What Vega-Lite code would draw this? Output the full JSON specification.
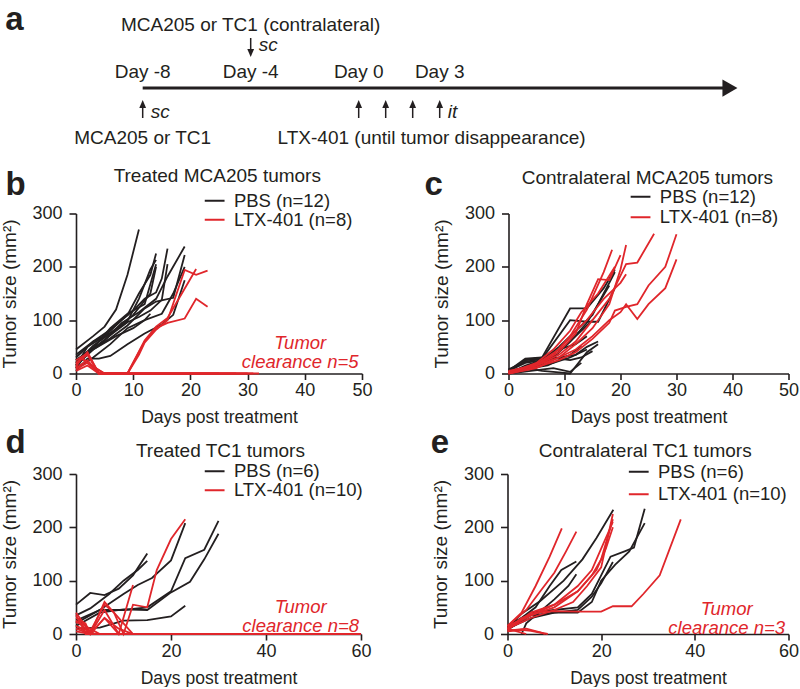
{
"$schema": "https://vega.github.io/schema/vega-lite/v6.json",
"background": "white",
"padding": {"left": 0, "top": 0, "right": 0, "bottom": 0},
"config": {
  "font": "Liberation Sans",
  "view": {"stroke": null},
  "axis": {"grid": false, "domainColor": "#231f20", "domainWidth": 1.6, "tickColor": "#231f20", "tickWidth": 1.6, "labelFont": "Liberation Sans", "labelFontSize": 18, "labelColor": "#231f20", "titleFont": "Liberation Sans", "titleFontWeight": "normal", "titleColor": "#231f20", "zindex": 0},
  "axisX": {"tickSize": 6, "labelPadding": 2, "titlePadding": 9, "titleFontSize": 17.5, "labelFlush": false},
  "axisY": {"tickSize": 7, "labelPadding": 7, "titlePadding": 12.5, "titleFontSize": 19},
  "legend": {"symbolType": "M-1.4,0H1.4", "symbolSize": 200, "symbolStrokeWidth": 2, "labelFont": "Liberation Sans", "labelFontSize": 18.5, "labelColor": "#231f20", "labelOffset": 10, "rowPadding": 0, "padding": 0, "titlePadding": 0},
  "text": {"font": "Liberation Sans", "fontSize": 19, "color": "#231f20"}
},
"datasets": {
"b": [
{"id":"P1","g":"PBS","day":0,"size":45},{"id":"P1","g":"PBS","day":3,"size":70},{"id":"P1","g":"PBS","day":5,"size":88},{"id":"P1","g":"PBS","day":7,"size":120},{"id":"P1","g":"PBS","day":9,"size":185},{"id":"P1","g":"PBS","day":11,"size":270},
{"id":"P2","g":"PBS","day":0,"size":30},{"id":"P2","g":"PBS","day":3,"size":60},{"id":"P2","g":"PBS","day":6,"size":82},{"id":"P2","g":"PBS","day":9,"size":110},{"id":"P2","g":"PBS","day":11,"size":150},{"id":"P2","g":"PBS","day":13,"size":185},{"id":"P2","g":"PBS","day":14,"size":225},
{"id":"P3","g":"PBS","day":0,"size":20},{"id":"P3","g":"PBS","day":3,"size":52},{"id":"P3","g":"PBS","day":6,"size":75},{"id":"P3","g":"PBS","day":9,"size":98},{"id":"P3","g":"PBS","day":11,"size":140},{"id":"P3","g":"PBS","day":13,"size":195},{"id":"P3","g":"PBS","day":14,"size":213},
{"id":"P4","g":"PBS","day":0,"size":25},{"id":"P4","g":"PBS","day":3,"size":48},{"id":"P4","g":"PBS","day":6,"size":85},{"id":"P4","g":"PBS","day":9,"size":112},{"id":"P4","g":"PBS","day":12,"size":130},{"id":"P4","g":"PBS","day":14,"size":205},
{"id":"P5","g":"PBS","day":0,"size":15},{"id":"P5","g":"PBS","day":2,"size":50},{"id":"P5","g":"PBS","day":5,"size":70},{"id":"P5","g":"PBS","day":8,"size":100},{"id":"P5","g":"PBS","day":10,"size":118},{"id":"P5","g":"PBS","day":12,"size":140},{"id":"P5","g":"PBS","day":14,"size":152},{"id":"P5","g":"PBS","day":15,"size":178},{"id":"P5","g":"PBS","day":16,"size":234},
{"id":"P6","g":"PBS","day":0,"size":10},{"id":"P6","g":"PBS","day":2,"size":40},{"id":"P6","g":"PBS","day":5,"size":62},{"id":"P6","g":"PBS","day":8,"size":95},{"id":"P6","g":"PBS","day":11,"size":115},{"id":"P6","g":"PBS","day":14,"size":140},{"id":"P6","g":"PBS","day":16,"size":182},{"id":"P6","g":"PBS","day":19,"size":238},
{"id":"P7","g":"PBS","day":0,"size":20},{"id":"P7","g":"PBS","day":3,"size":45},{"id":"P7","g":"PBS","day":6,"size":66},{"id":"P7","g":"PBS","day":9,"size":90},{"id":"P7","g":"PBS","day":12,"size":122},{"id":"P7","g":"PBS","day":14,"size":135},{"id":"P7","g":"PBS","day":17,"size":142},{"id":"P7","g":"PBS","day":19,"size":222},
{"id":"P8","g":"PBS","day":0,"size":10},{"id":"P8","g":"PBS","day":3,"size":30},{"id":"P8","g":"PBS","day":6,"size":55},{"id":"P8","g":"PBS","day":9,"size":85},{"id":"P8","g":"PBS","day":12,"size":100},{"id":"P8","g":"PBS","day":15,"size":112},{"id":"P8","g":"PBS","day":17,"size":150},{"id":"P8","g":"PBS","day":19,"size":200},
{"id":"P9","g":"PBS","day":0,"size":5},{"id":"P9","g":"PBS","day":2,"size":28},{"id":"P9","g":"PBS","day":4,"size":28},{"id":"P9","g":"PBS","day":6,"size":33},{"id":"P9","g":"PBS","day":9,"size":55},{"id":"P9","g":"PBS","day":12,"size":75},{"id":"P9","g":"PBS","day":15,"size":92},{"id":"P9","g":"PBS","day":17,"size":110},{"id":"P9","g":"PBS","day":19,"size":175},
{"id":"P10","g":"PBS","day":0,"size":35},{"id":"P10","g":"PBS","day":3,"size":60},{"id":"P10","g":"PBS","day":6,"size":76},{"id":"P10","g":"PBS","day":8,"size":92},{"id":"P10","g":"PBS","day":10,"size":110},{"id":"P10","g":"PBS","day":13,"size":150},{"id":"P10","g":"PBS","day":14,"size":200},
{"id":"P11","g":"PBS","day":0,"size":25},{"id":"P11","g":"PBS","day":4,"size":55},{"id":"P11","g":"PBS","day":7,"size":80},{"id":"P11","g":"PBS","day":9,"size":96},{"id":"P11","g":"PBS","day":11,"size":106},{"id":"P11","g":"PBS","day":13,"size":118},{"id":"P11","g":"PBS","day":15,"size":138},{"id":"P11","g":"PBS","day":16,"size":205},
{"id":"P12","g":"PBS","day":0,"size":15},{"id":"P12","g":"PBS","day":3,"size":45},{"id":"P12","g":"PBS","day":7,"size":70},{"id":"P12","g":"PBS","day":10,"size":85},{"id":"P12","g":"PBS","day":12,"size":100},{"id":"P12","g":"PBS","day":13,"size":112},
{"id":"L1","g":"LTX-401","day":0,"size":15},{"id":"L1","g":"LTX-401","day":2,"size":40},{"id":"L1","g":"LTX-401","day":4,"size":0},{"id":"L1","g":"LTX-401","day":9,"size":0},{"id":"L1","g":"LTX-401","day":12,"size":60},{"id":"L1","g":"LTX-401","day":14,"size":85},{"id":"L1","g":"LTX-401","day":16,"size":95},{"id":"L1","g":"LTX-401","day":19,"size":103},{"id":"L1","g":"LTX-401","day":21,"size":140},{"id":"L1","g":"LTX-401","day":23,"size":125},
{"id":"L2","g":"LTX-401","day":0,"size":10},{"id":"L2","g":"LTX-401","day":2,"size":25},{"id":"L2","g":"LTX-401","day":4,"size":0},{"id":"L2","g":"LTX-401","day":9,"size":0},{"id":"L2","g":"LTX-401","day":11,"size":35},{"id":"L2","g":"LTX-401","day":12,"size":58},{"id":"L2","g":"LTX-401","day":14,"size":82},{"id":"L2","g":"LTX-401","day":16,"size":100},{"id":"L2","g":"LTX-401","day":19,"size":194},{"id":"L2","g":"LTX-401","day":21,"size":185},{"id":"L2","g":"LTX-401","day":23,"size":193},
{"id":"L3","g":"LTX-401","day":0,"size":20},{"id":"L3","g":"LTX-401","day":2,"size":35},{"id":"L3","g":"LTX-401","day":4,"size":0},{"id":"L3","g":"LTX-401","day":9,"size":0},{"id":"L3","g":"LTX-401","day":12,"size":62},{"id":"L3","g":"LTX-401","day":14,"size":88},{"id":"L3","g":"LTX-401","day":16,"size":104},{"id":"L3","g":"LTX-401","day":21,"size":196},
{"id":"L4","g":"LTX-401","day":0,"size":12},{"id":"L4","g":"LTX-401","day":1,"size":30},{"id":"L4","g":"LTX-401","day":3,"size":10},{"id":"L4","g":"LTX-401","day":4,"size":0},{"id":"L4","g":"LTX-401","day":31,"size":0},
{"id":"L5","g":"LTX-401","day":0,"size":8},{"id":"L5","g":"LTX-401","day":2,"size":20},{"id":"L5","g":"LTX-401","day":5,"size":0},{"id":"L5","g":"LTX-401","day":28,"size":0},
{"id":"L6","g":"LTX-401","day":0,"size":25},{"id":"L6","g":"LTX-401","day":2,"size":38},{"id":"L6","g":"LTX-401","day":4,"size":0},{"id":"L6","g":"LTX-401","day":30,"size":0},
{"id":"L7","g":"LTX-401","day":0,"size":5},{"id":"L7","g":"LTX-401","day":2,"size":15},{"id":"L7","g":"LTX-401","day":4,"size":0},{"id":"L7","g":"LTX-401","day":25,"size":0},
{"id":"L8","g":"LTX-401","day":0,"size":18},{"id":"L8","g":"LTX-401","day":1,"size":28},{"id":"L8","g":"LTX-401","day":3,"size":12},{"id":"L8","g":"LTX-401","day":5,"size":0},{"id":"L8","g":"LTX-401","day":32,"size":0}
],
"c": [
{"id":"C1","g":"PBS","day":0,"size":5},{"id":"C1","g":"PBS","day":3,"size":28},{"id":"C1","g":"PBS","day":6,"size":30},{"id":"C1","g":"PBS","day":11,"size":122},{"id":"C1","g":"PBS","day":14,"size":122},{"id":"C1","g":"PBS","day":17,"size":160},{"id":"C1","g":"PBS","day":19,"size":195},
{"id":"C2","g":"PBS","day":0,"size":3},{"id":"C2","g":"PBS","day":3,"size":25},{"id":"C2","g":"PBS","day":6,"size":28},{"id":"C2","g":"PBS","day":11,"size":100},{"id":"C2","g":"PBS","day":14,"size":97},{"id":"C2","g":"PBS","day":16,"size":97},{"id":"C2","g":"PBS","day":19,"size":160},
{"id":"C3","g":"PBS","day":0,"size":0},{"id":"C3","g":"PBS","day":3,"size":15},{"id":"C3","g":"PBS","day":6,"size":25},{"id":"C3","g":"PBS","day":9,"size":50},{"id":"C3","g":"PBS","day":12,"size":80},{"id":"C3","g":"PBS","day":15,"size":110},{"id":"C3","g":"PBS","day":17,"size":150},{"id":"C3","g":"PBS","day":19,"size":190},
{"id":"C4","g":"PBS","day":0,"size":5},{"id":"C4","g":"PBS","day":3,"size":10},{"id":"C4","g":"PBS","day":6,"size":5},{"id":"C4","g":"PBS","day":9,"size":2},{"id":"C4","g":"PBS","day":11,"size":0},{"id":"C4","g":"PBS","day":14,"size":40},{"id":"C4","g":"PBS","day":16,"size":55},
{"id":"C5","g":"PBS","day":0,"size":5},{"id":"C5","g":"PBS","day":3,"size":20},{"id":"C5","g":"PBS","day":6,"size":25},{"id":"C5","g":"PBS","day":9,"size":30},{"id":"C5","g":"PBS","day":12,"size":35},{"id":"C5","g":"PBS","day":14,"size":50},{"id":"C5","g":"PBS","day":16,"size":60},
{"id":"C6","g":"PBS","day":0,"size":8},{"id":"C6","g":"PBS","day":3,"size":22},{"id":"C6","g":"PBS","day":6,"size":28},{"id":"C6","g":"PBS","day":9,"size":45},{"id":"C6","g":"PBS","day":12,"size":55},{"id":"C6","g":"PBS","day":14,"size":70},
{"id":"C7","g":"PBS","day":0,"size":0},{"id":"C7","g":"PBS","day":4,"size":10},{"id":"C7","g":"PBS","day":8,"size":20},{"id":"C7","g":"PBS","day":11,"size":30},{"id":"C7","g":"PBS","day":14,"size":45},
{"id":"C8","g":"PBS","day":0,"size":3},{"id":"C8","g":"PBS","day":3,"size":12},{"id":"C8","g":"PBS","day":6,"size":20},{"id":"C8","g":"PBS","day":9,"size":40},{"id":"C8","g":"PBS","day":12,"size":70},{"id":"C8","g":"PBS","day":15,"size":100},
{"id":"C9","g":"PBS","day":0,"size":0},{"id":"C9","g":"PBS","day":5,"size":12},{"id":"C9","g":"PBS","day":8,"size":30},{"id":"C9","g":"PBS","day":11,"size":60},{"id":"C9","g":"PBS","day":14,"size":95},{"id":"C9","g":"PBS","day":16,"size":130},{"id":"C9","g":"PBS","day":18,"size":165},
{"id":"C10","g":"PBS","day":0,"size":5},{"id":"C10","g":"PBS","day":3,"size":25},{"id":"C10","g":"PBS","day":6,"size":30},{"id":"C10","g":"PBS","day":9,"size":28},{"id":"C10","g":"PBS","day":11,"size":25},{"id":"C10","g":"PBS","day":13,"size":30},{"id":"C10","g":"PBS","day":15,"size":42},
{"id":"C11","g":"PBS","day":0,"size":2},{"id":"C11","g":"PBS","day":3,"size":8},{"id":"C11","g":"PBS","day":7,"size":15},{"id":"C11","g":"PBS","day":11,"size":35},{"id":"C11","g":"PBS","day":13,"size":52},
{"id":"C12","g":"PBS","day":0,"size":0},{"id":"C12","g":"PBS","day":4,"size":5},{"id":"C12","g":"PBS","day":8,"size":10},{"id":"C12","g":"PBS","day":11,"size":3},{"id":"C12","g":"PBS","day":13,"size":20},
{"id":"M1","g":"LTX-401","day":0,"size":2},{"id":"M1","g":"LTX-401","day":5,"size":15},{"id":"M1","g":"LTX-401","day":9,"size":40},{"id":"M1","g":"LTX-401","day":12,"size":75},{"id":"M1","g":"LTX-401","day":14,"size":130},{"id":"M1","g":"LTX-401","day":16,"size":177},{"id":"M1","g":"LTX-401","day":18,"size":175},{"id":"M1","g":"LTX-401","day":20,"size":222},
{"id":"M2","g":"LTX-401","day":0,"size":0},{"id":"M2","g":"LTX-401","day":4,"size":12},{"id":"M2","g":"LTX-401","day":8,"size":35},{"id":"M2","g":"LTX-401","day":11,"size":70},{"id":"M2","g":"LTX-401","day":14,"size":120},{"id":"M2","g":"LTX-401","day":17,"size":190},{"id":"M2","g":"LTX-401","day":18.5,"size":232},
{"id":"M3","g":"LTX-401","day":0,"size":3},{"id":"M3","g":"LTX-401","day":5,"size":15},{"id":"M3","g":"LTX-401","day":9,"size":35},{"id":"M3","g":"LTX-401","day":12,"size":60},{"id":"M3","g":"LTX-401","day":15,"size":100},{"id":"M3","g":"LTX-401","day":18,"size":140},{"id":"M3","g":"LTX-401","day":21,"size":205},{"id":"M3","g":"LTX-401","day":23,"size":208},{"id":"M3","g":"LTX-401","day":26,"size":262},
{"id":"M4","g":"LTX-401","day":0,"size":0},{"id":"M4","g":"LTX-401","day":5,"size":10},{"id":"M4","g":"LTX-401","day":9,"size":30},{"id":"M4","g":"LTX-401","day":12,"size":55},{"id":"M4","g":"LTX-401","day":15,"size":85},{"id":"M4","g":"LTX-401","day":18,"size":130},{"id":"M4","g":"LTX-401","day":20,"size":195},{"id":"M4","g":"LTX-401","day":21,"size":241},
{"id":"M5","g":"LTX-401","day":0,"size":5},{"id":"M5","g":"LTX-401","day":5,"size":15},{"id":"M5","g":"LTX-401","day":9,"size":30},{"id":"M5","g":"LTX-401","day":12,"size":45},{"id":"M5","g":"LTX-401","day":15,"size":70},{"id":"M5","g":"LTX-401","day":18,"size":100},{"id":"M5","g":"LTX-401","day":20,"size":115},{"id":"M5","g":"LTX-401","day":21,"size":130},{"id":"M5","g":"LTX-401","day":23,"size":102},{"id":"M5","g":"LTX-401","day":25,"size":130},{"id":"M5","g":"LTX-401","day":28,"size":160},{"id":"M5","g":"LTX-401","day":30,"size":214},
{"id":"M6","g":"LTX-401","day":0,"size":0},{"id":"M6","g":"LTX-401","day":5,"size":12},{"id":"M6","g":"LTX-401","day":9,"size":25},{"id":"M6","g":"LTX-401","day":12,"size":40},{"id":"M6","g":"LTX-401","day":15,"size":65},{"id":"M6","g":"LTX-401","day":18,"size":95},{"id":"M6","g":"LTX-401","day":19,"size":118},{"id":"M6","g":"LTX-401","day":21,"size":125},{"id":"M6","g":"LTX-401","day":23,"size":130},{"id":"M6","g":"LTX-401","day":25,"size":165},{"id":"M6","g":"LTX-401","day":28,"size":200},{"id":"M6","g":"LTX-401","day":30,"size":261},
{"id":"M7","g":"LTX-401","day":0,"size":3},{"id":"M7","g":"LTX-401","day":5,"size":18},{"id":"M7","g":"LTX-401","day":9,"size":45},{"id":"M7","g":"LTX-401","day":12,"size":80},{"id":"M7","g":"LTX-401","day":14,"size":100},{"id":"M7","g":"LTX-401","day":17,"size":140},{"id":"M7","g":"LTX-401","day":20,"size":170},{"id":"M7","g":"LTX-401","day":21,"size":186},
{"id":"M8","g":"LTX-401","day":0,"size":0},{"id":"M8","g":"LTX-401","day":5,"size":20},{"id":"M8","g":"LTX-401","day":8,"size":45},{"id":"M8","g":"LTX-401","day":11,"size":80},{"id":"M8","g":"LTX-401","day":13,"size":115},{"id":"M8","g":"LTX-401","day":16,"size":150},{"id":"M8","g":"LTX-401","day":19,"size":200}
],
"d": [
{"id":"D1","g":"PBS","day":0,"size":55},{"id":"D1","g":"PBS","day":3,"size":77},{"id":"D1","g":"PBS","day":6,"size":73},{"id":"D1","g":"PBS","day":9,"size":85},{"id":"D1","g":"PBS","day":12,"size":110},{"id":"D1","g":"PBS","day":15,"size":151},
{"id":"D2","g":"PBS","day":0,"size":35},{"id":"D2","g":"PBS","day":3,"size":48},{"id":"D2","g":"PBS","day":7,"size":75},{"id":"D2","g":"PBS","day":10,"size":100},{"id":"D2","g":"PBS","day":13,"size":120},{"id":"D2","g":"PBS","day":15,"size":137},
{"id":"D3","g":"PBS","day":0,"size":20},{"id":"D3","g":"PBS","day":5,"size":45},{"id":"D3","g":"PBS","day":10,"size":45},{"id":"D3","g":"PBS","day":15,"size":50},{"id":"D3","g":"PBS","day":20,"size":80},{"id":"D3","g":"PBS","day":23,"size":142},{"id":"D3","g":"PBS","day":27,"size":158},{"id":"D3","g":"PBS","day":30,"size":212},
{"id":"D4","g":"PBS","day":0,"size":15},{"id":"D4","g":"PBS","day":5,"size":40},{"id":"D4","g":"PBS","day":10,"size":46},{"id":"D4","g":"PBS","day":15,"size":45},{"id":"D4","g":"PBS","day":20,"size":78},{"id":"D4","g":"PBS","day":24,"size":98},{"id":"D4","g":"PBS","day":27,"size":140},{"id":"D4","g":"PBS","day":30,"size":188},
{"id":"D5","g":"PBS","day":0,"size":25},{"id":"D5","g":"PBS","day":5,"size":45},{"id":"D5","g":"PBS","day":10,"size":75},{"id":"D5","g":"PBS","day":13,"size":92},{"id":"D5","g":"PBS","day":16,"size":105},{"id":"D5","g":"PBS","day":20,"size":138},{"id":"D5","g":"PBS","day":23,"size":208},
{"id":"D6","g":"PBS","day":0,"size":10},{"id":"D6","g":"PBS","day":5,"size":12},{"id":"D6","g":"PBS","day":10,"size":25},{"id":"D6","g":"PBS","day":15,"size":26},{"id":"D6","g":"PBS","day":20,"size":33},{"id":"D6","g":"PBS","day":23,"size":53},
{"id":"T1","g":"LTX-401","day":0,"size":25},{"id":"T1","g":"LTX-401","day":2,"size":10},{"id":"T1","g":"LTX-401","day":3,"size":0},{"id":"T1","g":"LTX-401","day":6,"size":60},{"id":"T1","g":"LTX-401","day":8,"size":40},{"id":"T1","g":"LTX-401","day":10,"size":0},{"id":"T1","g":"LTX-401","day":12,"size":55},{"id":"T1","g":"LTX-401","day":15,"size":50},{"id":"T1","g":"LTX-401","day":17,"size":120},{"id":"T1","g":"LTX-401","day":20,"size":178},{"id":"T1","g":"LTX-401","day":23,"size":215},
{"id":"T2","g":"LTX-401","day":0,"size":15},{"id":"T2","g":"LTX-401","day":3,"size":0},{"id":"T2","g":"LTX-401","day":6,"size":45},{"id":"T2","g":"LTX-401","day":9,"size":0},{"id":"T2","g":"LTX-401","day":12,"size":92},
{"id":"T3","g":"LTX-401","day":0,"size":40},{"id":"T3","g":"LTX-401","day":2,"size":15},{"id":"T3","g":"LTX-401","day":3,"size":0},{"id":"T3","g":"LTX-401","day":60,"size":0},
{"id":"T4","g":"LTX-401","day":0,"size":20},{"id":"T4","g":"LTX-401","day":1,"size":25},{"id":"T4","g":"LTX-401","day":3,"size":5},{"id":"T4","g":"LTX-401","day":4,"size":0},{"id":"T4","g":"LTX-401","day":60,"size":0},
{"id":"T5","g":"LTX-401","day":0,"size":10},{"id":"T5","g":"LTX-401","day":3,"size":0},{"id":"T5","g":"LTX-401","day":6,"size":30},{"id":"T5","g":"LTX-401","day":9,"size":0},{"id":"T5","g":"LTX-401","day":60,"size":0},
{"id":"T6","g":"LTX-401","day":0,"size":15},{"id":"T6","g":"LTX-401","day":3,"size":5},{"id":"T6","g":"LTX-401","day":6,"size":55},{"id":"T6","g":"LTX-401","day":8,"size":40},{"id":"T6","g":"LTX-401","day":12,"size":0},{"id":"T6","g":"LTX-401","day":60,"size":0},
{"id":"T7","g":"LTX-401","day":0,"size":30},{"id":"T7","g":"LTX-401","day":2,"size":20},{"id":"T7","g":"LTX-401","day":3,"size":0},{"id":"T7","g":"LTX-401","day":6,"size":30},{"id":"T7","g":"LTX-401","day":9,"size":10},{"id":"T7","g":"LTX-401","day":12,"size":0},{"id":"T7","g":"LTX-401","day":60,"size":0},
{"id":"T8","g":"LTX-401","day":0,"size":5},{"id":"T8","g":"LTX-401","day":3,"size":0},{"id":"T8","g":"LTX-401","day":60,"size":0},
{"id":"T9","g":"LTX-401","day":0,"size":25},{"id":"T9","g":"LTX-401","day":3,"size":10},{"id":"T9","g":"LTX-401","day":5,"size":0},{"id":"T9","g":"LTX-401","day":60,"size":0},
{"id":"T10","g":"LTX-401","day":0,"size":35},{"id":"T10","g":"LTX-401","day":1,"size":20},{"id":"T10","g":"LTX-401","day":2,"size":0},{"id":"T10","g":"LTX-401","day":58,"size":0}
],
"e": [
{"id":"E1","g":"PBS","day":0,"size":10},{"id":"E1","g":"PBS","day":3,"size":38},{"id":"E1","g":"PBS","day":7,"size":62},{"id":"E1","g":"PBS","day":12,"size":100},{"id":"E1","g":"PBS","day":16,"size":140},{"id":"E1","g":"PBS","day":19,"size":180},{"id":"E1","g":"PBS","day":22.6,"size":233},
{"id":"E2","g":"PBS","day":0,"size":12},{"id":"E2","g":"PBS","day":3,"size":30},{"id":"E2","g":"PBS","day":6,"size":50},{"id":"E2","g":"PBS","day":9,"size":90},{"id":"E2","g":"PBS","day":11.5,"size":120},{"id":"E2","g":"PBS","day":14.7,"size":136},
{"id":"E3","g":"PBS","day":0,"size":15},{"id":"E3","g":"PBS","day":5,"size":40},{"id":"E3","g":"PBS","day":10,"size":45},{"id":"E3","g":"PBS","day":15,"size":50},{"id":"E3","g":"PBS","day":18,"size":75},{"id":"E3","g":"PBS","day":20,"size":110},{"id":"E3","g":"PBS","day":22,"size":145},{"id":"E3","g":"PBS","day":25,"size":155},{"id":"E3","g":"PBS","day":27,"size":162},{"id":"E3","g":"PBS","day":29.3,"size":235},
{"id":"E4","g":"PBS","day":0,"size":10},{"id":"E4","g":"PBS","day":5,"size":30},{"id":"E4","g":"PBS","day":10,"size":40},{"id":"E4","g":"PBS","day":15,"size":40},{"id":"E4","g":"PBS","day":18,"size":60},{"id":"E4","g":"PBS","day":20,"size":100},{"id":"E4","g":"PBS","day":23,"size":130},{"id":"E4","g":"PBS","day":26,"size":155},{"id":"E4","g":"PBS","day":29.3,"size":208},
{"id":"E5","g":"PBS","day":0,"size":8},{"id":"E5","g":"PBS","day":5,"size":35},{"id":"E5","g":"PBS","day":10,"size":40},{"id":"E5","g":"PBS","day":15,"size":45},{"id":"E5","g":"PBS","day":18,"size":70},{"id":"E5","g":"PBS","day":20,"size":95},{"id":"E5","g":"PBS","day":22.5,"size":135},
{"id":"E6","g":"PBS","day":3,"size":0},{"id":"E6","g":"PBS","day":4,"size":20},{"id":"E6","g":"PBS","day":6,"size":35},{"id":"E6","g":"PBS","day":10,"size":65},{"id":"E6","g":"PBS","day":13,"size":90},{"id":"E6","g":"PBS","day":14.7,"size":112},
{"id":"F1","g":"LTX-401","day":0,"size":15},{"id":"F1","g":"LTX-401","day":3,"size":40},{"id":"F1","g":"LTX-401","day":6,"size":90},{"id":"F1","g":"LTX-401","day":9,"size":145},{"id":"F1","g":"LTX-401","day":11.6,"size":198},
{"id":"F2","g":"LTX-401","day":0,"size":15},{"id":"F2","g":"LTX-401","day":4,"size":45},{"id":"F2","g":"LTX-401","day":7,"size":80},{"id":"F2","g":"LTX-401","day":10,"size":115},{"id":"F2","g":"LTX-401","day":12.5,"size":155},{"id":"F2","g":"LTX-401","day":14.7,"size":192},
{"id":"F3","g":"LTX-401","day":0,"size":10},{"id":"F3","g":"LTX-401","day":5,"size":30},{"id":"F3","g":"LTX-401","day":10,"size":45},{"id":"F3","g":"LTX-401","day":14,"size":60},{"id":"F3","g":"LTX-401","day":17,"size":90},{"id":"F3","g":"LTX-401","day":20,"size":125},{"id":"F3","g":"LTX-401","day":22.5,"size":225},
{"id":"F4","g":"LTX-401","day":0,"size":12},{"id":"F4","g":"LTX-401","day":5,"size":35},{"id":"F4","g":"LTX-401","day":10,"size":50},{"id":"F4","g":"LTX-401","day":15,"size":80},{"id":"F4","g":"LTX-401","day":18,"size":110},{"id":"F4","g":"LTX-401","day":20,"size":140},{"id":"F4","g":"LTX-401","day":22.5,"size":215},
{"id":"F5","g":"LTX-401","day":0,"size":8},{"id":"F5","g":"LTX-401","day":5,"size":40},{"id":"F5","g":"LTX-401","day":10,"size":55},{"id":"F5","g":"LTX-401","day":15,"size":90},{"id":"F5","g":"LTX-401","day":18,"size":120},{"id":"F5","g":"LTX-401","day":20,"size":160},{"id":"F5","g":"LTX-401","day":22.5,"size":210},
{"id":"F6","g":"LTX-401","day":0,"size":10},{"id":"F6","g":"LTX-401","day":3,"size":30},{"id":"F6","g":"LTX-401","day":6,"size":40},{"id":"F6","g":"LTX-401","day":10,"size":43},{"id":"F6","g":"LTX-401","day":15,"size":42},{"id":"F6","g":"LTX-401","day":20,"size":42},{"id":"F6","g":"LTX-401","day":22.5,"size":52},{"id":"F6","g":"LTX-401","day":26.5,"size":52},{"id":"F6","g":"LTX-401","day":29,"size":75},{"id":"F6","g":"LTX-401","day":32.5,"size":110},{"id":"F6","g":"LTX-401","day":37,"size":215},
{"id":"F7","g":"LTX-401","day":0,"size":15},{"id":"F7","g":"LTX-401","day":5,"size":35},{"id":"F7","g":"LTX-401","day":10,"size":55},{"id":"F7","g":"LTX-401","day":15,"size":80},{"id":"F7","g":"LTX-401","day":19,"size":120},{"id":"F7","g":"LTX-401","day":21,"size":160},{"id":"F7","g":"LTX-401","day":22.5,"size":200},
{"id":"F8","g":"LTX-401","day":0,"size":5},{"id":"F8","g":"LTX-401","day":3,"size":8},{"id":"F8","g":"LTX-401","day":5,"size":6},{"id":"F8","g":"LTX-401","day":8.6,"size":0},
{"id":"F9","g":"LTX-401","day":0,"size":10},{"id":"F9","g":"LTX-401","day":2,"size":5},{"id":"F9","g":"LTX-401","day":4,"size":0},
{"id":"F10","g":"LTX-401","day":0,"size":6},{"id":"F10","g":"LTX-401","day":4,"size":10},{"id":"F10","g":"LTX-401","day":7,"size":3},{"id":"F10","g":"LTX-401","day":8,"size":0}
],
"events": [{"day":-8,"label":"Day -8"},{"day":-4,"label":"Day -4"},{"day":0,"label":"Day 0"},{"day":3,"label":"Day 3"}],
"injections": [{"day":-8,"dir":"up","route":"sc"},{"day":-4,"dir":"down","route":"sc"},{"day":0,"dir":"up","route":""},{"day":1,"dir":"up","route":""},{"day":2,"dir":"up","route":""},{"day":3,"dir":"up","route":"it"}]
},
"spacing": 0.5,
"resolve": {"scale": {"color": "independent"}, "legend": {"color": "independent"}},
"vconcat": [
{
 "width": 675, "height": 165.5,
 "layer": [
  {"data": {"values": [{"t": "a"}]}, "mark": {"type": "text", "fontSize": 33, "fontWeight": "bold", "align": "left", "baseline": "alphabetic"},
   "encoding": {"text": {"field": "t"}, "x": {"datum": -13.09, "type": "quantitative", "scale": {"domain": [-10.47, 14.53], "nice": false, "zero": false}, "axis": null}, "y": {"datum": 5.8, "type": "quantitative", "scale": {"domain": [-7.75, 8.8], "nice": false, "zero": false}, "axis": null}}},
  {"data": {"values": [{}]}, "mark": {"type": "rule", "strokeWidth": 3, "color": "#231f20"},
   "encoding": {"x": {"datum": -8}, "x2": {"datum": 13.6}, "y": {"datum": 0}}},
  {"data": {"values": [{}]}, "mark": {"type": "point", "shape": "M1,0L-1,-1.15L-1,1.15Z", "size": 225, "filled": true, "opacity": 1, "color": "#231f20"},
   "encoding": {"x": {"datum": 13.75}, "y": {"datum": 0}}},
  {"data": {"name": "events"}, "mark": {"type": "text", "baseline": "middle"},
   "encoding": {"x": {"field": "day", "type": "quantitative"}, "y": {"datum": 1.6}, "text": {"field": "label"}}},
  {"data": {"name": "injections"}, "transform": [{"filter": "datum.dir == 'up'"}], "mark": {"type": "rule", "strokeWidth": 1.5, "color": "#231f20"},
   "encoding": {"x": {"field": "day", "type": "quantitative"}, "y": {"datum": -3.0}, "y2": {"datum": -1.6}}},
  {"data": {"name": "injections"}, "transform": [{"filter": "datum.dir == 'up'"}], "mark": {"type": "point", "shape": "M0,-1L-0.85,1L0.85,1Z", "size": 64, "filled": true, "opacity": 1, "color": "#231f20"},
   "encoding": {"x": {"field": "day", "type": "quantitative"}, "y": {"datum": -1.6}}},
  {"data": {"name": "injections"}, "transform": [{"filter": "datum.dir == 'down'"}], "mark": {"type": "rule", "strokeWidth": 1.5, "color": "#231f20"},
   "encoding": {"x": {"field": "day", "type": "quantitative"}, "y": {"datum": 5.0}, "y2": {"datum": 3.5}}},
  {"data": {"name": "injections"}, "transform": [{"filter": "datum.dir == 'down'"}], "mark": {"type": "point", "shape": "M0,1L-0.85,-1L0.85,-1Z", "size": 64, "filled": true, "opacity": 1, "color": "#231f20"},
   "encoding": {"x": {"field": "day", "type": "quantitative"}, "y": {"datum": 3.5}}},
  {"data": {"name": "injections"}, "transform": [{"filter": "datum.dir == 'up' && datum.route != ''"}], "mark": {"type": "text", "fontStyle": "italic", "align": "left", "baseline": "middle", "dx": 8},
   "encoding": {"x": {"field": "day", "type": "quantitative"}, "y": {"datum": -2.4}, "text": {"field": "route"}}},
  {"data": {"name": "injections"}, "transform": [{"filter": "datum.dir == 'down'"}], "mark": {"type": "text", "fontStyle": "italic", "align": "left", "baseline": "middle", "dx": 8},
   "encoding": {"x": {"field": "day", "type": "quantitative"}, "y": {"datum": 4.3}, "text": {"field": "route"}}},
  {"data": {"values": [{"t": "MCA205 or TC1 (contralateral)"}]}, "mark": {"type": "text", "baseline": "middle"},
   "encoding": {"x": {"datum": -4}, "y": {"datum": 6.3}, "text": {"field": "t"}}},
  {"data": {"values": [{"t": "MCA205 or TC1"}]}, "mark": {"type": "text", "baseline": "middle"},
   "encoding": {"x": {"datum": -8}, "y": {"datum": -5.0}, "text": {"field": "t"}}},
  {"data": {"values": [{"t": "LTX-401 (until tumor disappearance)"}]}, "mark": {"type": "text", "baseline": "middle"},
   "encoding": {"x": {"datum": 2.7}, "y": {"datum": -5.0}, "text": {"field": "t"}}}
 ]
},
{
 "hconcat": [
  {
   "width": 286, "height": 160,
   "layer": [
    {"data": {"name": "b"}, "mark": {"type": "line", "strokeWidth": 1.8},
     "encoding": {
      "x": {"field": "day", "type": "quantitative", "scale": {"domain": [0, 50], "nice": false}, "axis": {"values": [0, 10, 20, 30, 40, 50], "title": "Days post treatment"}},
      "y": {"field": "size", "type": "quantitative", "scale": {"domain": [0, 300], "nice": false}, "axis": {"values": [0, 100, 200, 300], "title": "Tumor size (mm²)"}},
      "detail": {"field": "id"},
      "color": {"field": "g", "type": "nominal", "scale": {"domain": ["PBS", "LTX-401"], "range": ["#231f20", "#e0262b"]}, "legend": {"title": null, "orient": "none", "legendX": 129.4, "legendY": -22, "rowPadding": 0, "labelExpr": "datum.label == 'PBS' ? 'PBS (n=12)' : 'LTX-401 (n=8)'"}}
     }},
    {"data": {"values": [{"t": "b"}]}, "mark": {"type": "text", "fontSize": 33, "fontWeight": "bold", "align": "left", "baseline": "alphabetic"},
     "encoding": {"x": {"datum": -12.33}, "y": {"datum": 334}, "text": {"field": "t"}}},
    {"data": {"values": [{"t": "Treated MCA205 tumors"}]}, "mark": {"type": "text", "baseline": "middle"},
     "encoding": {"x": {"datum": 24.7}, "y": {"datum": 371}, "text": {"field": "t"}}},
    {"data": {"values": [{"t": "Tumor\nclearance n=5"}]}, "mark": {"type": "text", "fontStyle": "italic", "fontSize": 18.5, "color": "#e0262b", "lineBreak": "\n", "lineHeight": 19, "baseline": "alphabetic"},
     "encoding": {"x": {"datum": 39.2}, "y": {"datum": 46}, "text": {"field": "t"}}}
   ]
  },
  {
   "width": 280, "height": 160,
   "layer": [
    {"data": {"name": "c"}, "mark": {"type": "line", "strokeWidth": 1.8},
     "encoding": {
      "x": {"field": "day", "type": "quantitative", "scale": {"domain": [0, 50], "nice": false}, "axis": {"values": [0, 10, 20, 30, 40, 50], "title": "Days post treatment"}},
      "y": {"field": "size", "type": "quantitative", "scale": {"domain": [0, 300], "nice": false}, "axis": {"values": [0, 100, 200, 300], "title": "Tumor size (mm²)"}},
      "detail": {"field": "id"},
      "color": {"field": "g", "type": "nominal", "scale": {"domain": ["PBS", "LTX-401"], "range": ["#231f20", "#e0262b"]}, "legend": {"title": null, "orient": "none", "legendX": 122.8, "legendY": -26, "rowPadding": 1.5, "labelExpr": "datum.label == 'PBS' ? 'PBS (n=12)' : 'LTX-401 (n=8)'"}}
     }},
    {"data": {"values": [{"t": "c"}]}, "mark": {"type": "text", "fontSize": 33, "fontWeight": "bold", "align": "left", "baseline": "alphabetic"},
     "encoding": {"x": {"datum": -15.0}, "y": {"datum": 334}, "text": {"field": "t"}}},
    {"data": {"values": [{"t": "Contralateral MCA205 tumors"}]}, "mark": {"type": "text", "baseline": "middle"},
     "encoding": {"x": {"datum": 24.8}, "y": {"datum": 367.5}, "text": {"field": "t"}}}
   ]
  }
 ],
 "spacing": 51.5,
 "resolve": {"scale": {"color": "independent"}, "legend": {"color": "independent"}}
},
{
 "hconcat": [
  {
   "width": 285, "height": 160,
   "layer": [
    {"data": {"name": "d"}, "mark": {"type": "line", "strokeWidth": 1.8},
     "encoding": {
      "x": {"field": "day", "type": "quantitative", "scale": {"domain": [0, 60], "nice": false}, "axis": {"values": [0, 20, 40, 60], "title": "Days post treatment"}},
      "y": {"field": "size", "type": "quantitative", "scale": {"domain": [0, 300], "nice": false}, "axis": {"values": [0, 100, 200, 300], "title": "Tumor size (mm²)"}},
      "detail": {"field": "id"},
      "color": {"field": "g", "type": "nominal", "scale": {"domain": ["PBS", "LTX-401"], "range": ["#231f20", "#e0262b"]}, "legend": {"title": null, "orient": "none", "legendX": 129.4, "legendY": -12, "rowPadding": 0, "labelExpr": "datum.label == 'PBS' ? 'PBS (n=6)' : 'LTX-401 (n=10)'"}}
     }},
    {"data": {"values": [{"t": "d"}]}, "mark": {"type": "text", "fontSize": 33, "fontWeight": "bold", "align": "left", "baseline": "alphabetic"},
     "encoding": {"x": {"datum": -14.84}, "y": {"datum": 338.5}, "text": {"field": "t"}}},
    {"data": {"values": [{"t": "Treated TC1 tumors"}]}, "mark": {"type": "text", "baseline": "middle"},
     "encoding": {"x": {"datum": 30.4}, "y": {"datum": 344}, "text": {"field": "t"}}},
    {"data": {"values": [{"t": "Tumor\nclearance n=8"}]}, "mark": {"type": "text", "fontStyle": "italic", "fontSize": 18.5, "color": "#e0262b", "lineBreak": "\n", "lineHeight": 19, "baseline": "alphabetic"},
     "encoding": {"x": {"datum": 47.3}, "y": {"datum": 38.5}, "text": {"field": "t"}}}
   ]
  },
  {
   "width": 281, "height": 160,
   "layer": [
    {"data": {"name": "e"}, "mark": {"type": "line", "strokeWidth": 1.8},
     "encoding": {
      "x": {"field": "day", "type": "quantitative", "scale": {"domain": [0, 60], "nice": false}, "axis": {"values": [0, 20, 40, 60], "title": "Days post treatment"}},
      "y": {"field": "size", "type": "quantitative", "scale": {"domain": [0, 300], "nice": false}, "axis": {"values": [0, 100, 200, 300], "title": "Tumor size (mm²)"}},
      "detail": {"field": "id"},
      "color": {"field": "g", "type": "nominal", "scale": {"domain": ["PBS", "LTX-401"], "range": ["#231f20", "#e0262b"]}, "legend": {"title": null, "orient": "none", "legendX": 122, "legendY": -11.5, "rowPadding": 3.5, "labelExpr": "datum.label == 'PBS' ? 'PBS (n=6)' : 'LTX-401 (n=10)'"}}
     }},
    {"data": {"values": [{"t": "e"}]}, "mark": {"type": "text", "fontSize": 33, "fontWeight": "bold", "align": "left", "baseline": "alphabetic"},
     "encoding": {"x": {"datum": -16.4}, "y": {"datum": 338.5}, "text": {"field": "t"}}},
    {"data": {"values": [{"t": "Contralateral TC1 tumors"}]}, "mark": {"type": "text", "baseline": "middle"},
     "encoding": {"x": {"datum": 29.4}, "y": {"datum": 344}, "text": {"field": "t"}}},
    {"data": {"values": [{"t": "Tumor\nclearance n=3"}]}, "mark": {"type": "text", "fontStyle": "italic", "fontSize": 18.5, "color": "#e0262b", "lineBreak": "\n", "lineHeight": 19, "baseline": "alphabetic"},
     "encoding": {"x": {"datum": 46.8}, "y": {"datum": 35}, "text": {"field": "t"}}}
   ]
  }
 ],
 "spacing": 58.5,
 "resolve": {"scale": {"color": "independent"}, "legend": {"color": "independent"}}
}
]
}
